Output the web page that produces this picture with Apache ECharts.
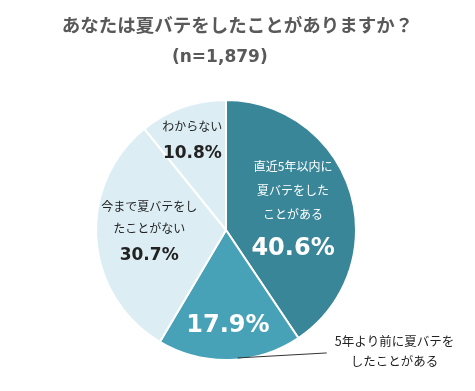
<!DOCTYPE html>
<html><head><meta charset="utf-8">
<script src="https://cdn.jsdelivr.net/npm/echarts@6/dist/echarts.min.js"></script>
<style>html,body{margin:0;padding:0;background:#fff}#c{width:475px;height:391px}</style>
</head><body><div id="c"></div>
<script>
const title = 'あなたは夏バテをしたことがありますか？';
const subtitle = '(n=1,879)';
const categories = ['直近5年以内に\n夏バテをした\nことがある', '5年より前に夏バテを\nしたことがある', '今まで夏バテをし\nたことがない', 'わからない'];
const values = [40.6, 17.9, 30.7, 10.8];

const colors = ['#3A8699', '#47A2B8', '#DCEEF4', '#DCEEF4'];
const labelStyles = [
  {tc: '#fff', pc: '#fff', ps: 24, tl: 24, pl: 46, offset: [2, 3], showName: true},
  {tc: '#fff', pc: '#fff', ps: 24, tl: 24, pl: 34, offset: [0, 28], showName: false},
  {tc: '#222', pc: '#222', ps: 17, tl: 22, pl: 32, offset: [-9, -1], showName: true},
  {tc: '#222', pc: '#222', ps: 17, tl: 24, pl: 30, offset: [-11, -24], showName: true}
];
const FONT = '"Noto Sans CJK JP", sans-serif';

const mainData = categories.map((name, i) => {
  const s = labelStyles[i];
  return {
    name, value: values[i],
    itemStyle: {color: colors[i]},
    label: {
      offset: s.offset,
      formatter: p => {
        const lines = s.showName ? p.name.split('\n').map(l => '{t|' + l + '}').join('\n') + '\n' : '';
        return lines + '{p|' + p.value.toFixed(1) + '%}';
      },
      rich: {
        t: {color: s.tc, fontSize: 12, fontFamily: FONT, lineHeight: s.tl, fontWeight: 'normal'},
        p: {color: s.pc, fontSize: s.ps, fontFamily: '"DejaVu Sans", sans-serif', fontWeight: 'bold', lineHeight: s.pl}
      }
    }
  };
});

const outerData = categories.map((name, i) => ({
  name, value: values[i],
  label: {show: i === 1},
  labelLine: {show: i === 1}
}));

const chart = echarts.init(document.getElementById('c'), null, {renderer: 'canvas'});
chart.setOption({
  animation: false,
  title: [{
    text: title, left: 'center', top: 11,
    textStyle: {color: '#595959', fontSize: 18.5, fontWeight: 'bold', fontFamily: FONT}
  }, {
    text: subtitle, left: 167, top: 44,
    textStyle: {color: '#595959', fontSize: 17, fontWeight: 'bold', fontFamily: '"DejaVu Sans", sans-serif'}
  }],
  series: [{
    type: 'pie', center: [226, 230], radius: [0, 130], startAngle: 90, clockwise: true,
    avoidLabelOverlap: false, silent: true,
    itemStyle: {borderColor: '#fff', borderWidth: 2},
    label: {show: true, position: 'inside'},
    labelLine: {show: false},
    data: mainData
  }, {
    type: 'pie', center: [226, 230], radius: [0, 130], startAngle: 90, clockwise: true,
    avoidLabelOverlap: false, silent: true, z: 5,
    itemStyle: {color: 'rgba(0,0,0,0)', borderWidth: 0},
    label: {
      position: 'outside',
      formatter: p => p.name.split('\n').map(l => '{c|' + l + '}').join('\n'),
      rich: {c: {color: '#222', fontSize: 12.5, fontFamily: FONT, lineHeight: 20, align: 'center'}}
    },
    labelLine: {length: 1, length2: 92, lineStyle: {color: '#333', width: 1}},
    labelLayout: params => {
      if (params.dataIndex !== 1 || !params.labelLinePoints) return {};
      const pts = params.labelLinePoints;
      const end = pts[pts.length - 1];
      return {dx: 8, dy: -10, labelLinePoints: [[pts[0][0] + 8, pts[0][1] - 2], [end[0] + 5, end[1] - 8]]};
    },
    data: outerData
  }]
});
</script></body></html>
